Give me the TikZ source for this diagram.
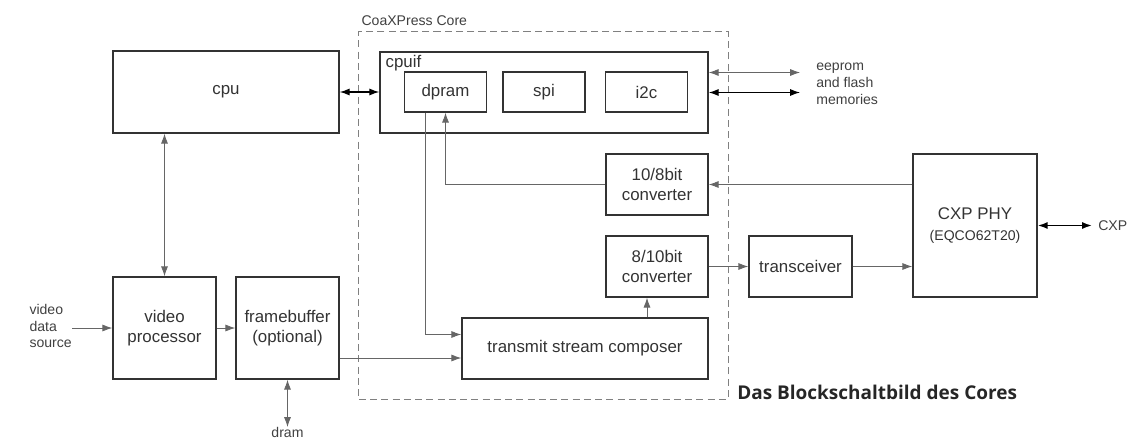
\documentclass[tikz,border=0pt]{standalone}
\usepackage{fontspec}
\setmainfont{Liberation Sans}
\newfontfamily\capfont{Open Sans}
\usetikzlibrary{arrows.meta}
\tikzset{block/.style={draw=black!80, line width=1pt, text=black!80, font=\fontsize{12}{14.5}\selectfont, align=center, inner sep=2pt},
  note/.style={text=black!75, font=\fontsize{10}{12}\selectfont, align=left, inner sep=0pt},
  corebox/.style={draw=black!50, line width=0.7pt, dash pattern=on 5pt off 3pt},
  wire/.style={draw=black!60, line width=0.6pt},
  bus/.style={draw=black, line width=0.8pt},
  >={Latex[length=7pt,width=5pt]}}

\begin{document}
\begin{tikzpicture}[x=0.025cm, y=-0.025cm]
   \useasboundingbox (0,0) rectangle (1129,440);
   \node[block, minimum width=5.65cm, minimum height=2.05cm] (cpu) at (226,92) {cpu};
   \node[block, minimum width=2.575cm, minimum height=2.55cm] (vproc) at (164.5,328) {video\\processor};
   \node[block, minimum width=2.575cm, minimum height=2.55cm] (fbuf) at (287.5,328) {framebuffer\\(optional)};
   \node[corebox, minimum width=9.225cm, minimum height=9.175cm] (core) at (543.5,215.5) {};
   \node[note, anchor=south west] (corename) at ([xshift=2pt,yshift=4pt]core.north west) {CoaXPress Core};
   \node[block, minimum width=8.2cm, minimum height=2.025cm] (cpuif) at (544,92.5) {};
   \node[block, draw=none, anchor=north west, inner sep=1pt] (cpuifname) at ([xshift=3pt,yshift=-1pt]cpuif.north west) {cpuif};
   \node[block, minimum width=2.05cm, minimum height=1cm] (dpram) at (445.5,92) {dpram};
   \node[block, minimum width=2.05cm, minimum height=1cm] (spi) at (544,92) {spi};
   \node[block, minimum width=2.05cm, minimum height=1cm] (i2c) at (646.5,92) {i2c};
   \node[block, minimum width=2.55cm, minimum height=1.525cm] (dec) at (657,184.5) {10/8bit\\converter};
   \node[block, minimum width=2.55cm, minimum height=1.525cm] (enc) at (657,266.5) {8/10bit\\converter};
   \node[block, minimum width=6.15cm, minimum height=1.525cm] (tsc) at (585,348.5) {transmit stream composer};
   \node[block, minimum width=2.575cm, minimum height=1.525cm] (trx) at (800.5,266.5) {transceiver};
   \node[block, minimum width=3.1cm, minimum height=3.575cm] (phy) at (975,225.5) {CXP PHY\\{\fontsize{10}{12}\selectfont (EQCO62T20)}};
   \node[note, anchor=east] (src) at (72,326) {video\\data\\source};
   \node[note, anchor=north] (dram) at (287.5,427) {dram};
   \node[note, anchor=west] (mem) at (816,84) {eeprom\\and flash\\memories};
   \node[note, anchor=west] (cxp) at (1098,225.5) {CXP};
   \node[anchor=west, inner sep=0pt, text=black!85, font=\capfont\bfseries\fontsize{13.5}{15}\selectfont] (caption) at (737,392) {Das Blockschaltbild des Cores};
   \draw[bus,<->] (cpu.east) -- (cpu.east -| cpuif.west);
   \draw[wire,<->] (vproc.north) -- (vproc.north |- cpu.south);
   \draw[wire,->] (src.east |- vproc) -- (vproc);
   \draw[wire,->] (vproc) -- (fbuf);
   \draw[wire,<->] (fbuf) -- (dram);
   \draw[wire,->] ([yshift=-0.75cm]fbuf.east) -- ([yshift=-0.75cm]fbuf.east -| tsc.west);
   \draw[wire,->] ([xshift=-0.5cm]dpram.south) |- ([yshift=0.35cm]tsc.west);
   \draw[wire,->] (dec.west) -| (dpram.south);
   \draw[wire,->] (dec -| phy.west) -- (dec.east);
   \draw[wire,->] ([xshift=-0.25cm]enc.south |- tsc.north) -- ([xshift=-0.25cm]enc.south);
   \draw[wire,->] (enc) -- (trx);
   \draw[wire,->] (trx) -- (trx -| phy.west);
   \draw[wire,<->] ([yshift=0.5cm]cpuif.east) -- ([yshift=0.5cm,xshift=-0.4cm]cpuif.east -| mem.west);
   \draw[bus,<->] (cpuif.east) -- ([xshift=-0.4cm]cpuif.east -| mem.west);
   \draw[bus,line width=1.2pt,<->] (phy.east) -- ([xshift=-0.15cm]cxp.west);
\end{tikzpicture}
\end{document}
